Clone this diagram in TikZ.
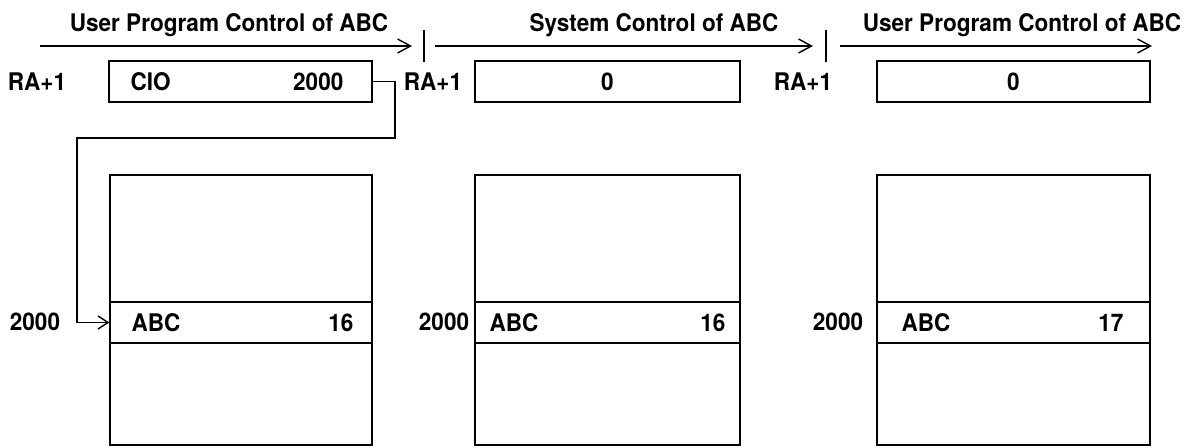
\documentclass[tikz,border=0pt]{standalone}
\usepackage{fontspec}
\setmainfont{TeX Gyre Heros}
\newfontfamily\lblfont{TeX Gyre Heros}[FakeStretch=0.93]
\usetikzlibrary{arrows.meta, positioning, calc}

\begin{document}
\begin{tikzpicture}[
    % --- Global Styles ---
    base/.style={font=\lblfont\fontsize{13.8}{16}\selectfont\bfseries, inner sep=0pt},
    word/.style={base, draw, line width=0.8pt, minimum height=0.82cm, minimum width=5.3cm},
    store/.style={draw, line width=0.8pt, minimum height=5.4cm, minimum width=5.3cm, inner sep=0pt},
    tag/.style={base},
    arrow/.style={-{Straight Barb[length=2.6mm, width=2.8mm]}, line width=0.8pt},
    link/.style={-{Straight Barb[length=2mm, width=2.6mm]}, line width=0.8pt},
    marker/.style={line width=0.8pt}
]
    \useasboundingbox (0,0) rectangle (24.02,8.94);

    % --- Headings ---
    \node[tag, anchor=base] (title1) at (4.58,8.30) {User Program Control of ABC};
    \node[tag, anchor=base] (title2) at (13.08,8.30) {System Control of ABC};
    \node[tag, anchor=base] (title3) at (20.44,8.30) {User Program Control of ABC};

    % --- Word RA+1 at each stage ---
    \node[word, minimum width=5.26cm] (cio) at (4.81,7.31) {};
    \node[word] (ra2) at (12.15,7.31) {0};
    \node[word, minimum width=5.46cm] (ra3) at (20.27,7.31) {0};
    \node[tag, right=0.44cm of cio.west] (ciotxt) {CIO};
    \node[tag, left=0.58cm of cio.east] (cioaddr) {2000};

    \node[tag] (ralbl1) at (0.74,7.30) {RA+1};
    \node[tag] (ralbl2) at (8.66,7.30) {RA+1};
    \node[tag] (ralbl3) at (16.06,7.30) {RA+1};

    % --- Storage with ABC at 2000 ---
    \node[store, minimum width=5.24cm] (mem1) at (4.82,2.74) {};
    \node[store] (mem2) at (12.15,2.74) {};
    \node[store, minimum width=5.46cm] (mem3) at (20.27,2.74) {};

    \node[word, minimum width=5.24cm] (abc1) at (4.82,2.49) {};
    \node[word] (abc2) at (12.15,2.49) {};
    \node[word, minimum width=5.46cm] (abc3) at (20.27,2.49) {};

    \node[tag, right=0.44cm of abc1.west] (abcname1) {ABC};
    \node[tag, left=0.38cm of abc1.east] (abccnt1) {16};
    \node[tag, right=0.30cm of abc2.west] (abcname2) {ABC};
    \node[tag, left=0.30cm of abc2.east] (abccnt2) {16};
    \node[tag, right=0.50cm of abc3.west] (abcname3) {ABC};
    \node[tag, left=0.54cm of abc3.east] (abccnt3) {17};

    \node[tag] (addr1) at (0.70,2.50) {2000};
    \node[tag] (addr2) at (8.88,2.50) {2000};
    \node[tag] (addr3) at (16.76,2.50) {2000};

    % --- Control flow along the top ---
    \coordinate (m1) at (8.48,8.02);
    \coordinate (m2) at (16.52,8.02);
    \coordinate (a1start) at (0.80,8.02);
    \coordinate (a3end) at (23.04,8.02);
    \draw[arrow] (a1start) -- ([xshift=-0.24cm]m1);
    \draw[arrow] ([xshift=0.22cm]m1) -- ([xshift=-0.26cm]m2);
    \draw[arrow] ([xshift=0.28cm]m2) -- (a3end);
    \foreach \m in {m1,m2}
        \draw[marker] ([yshift=0.32cm]\m) -- ([yshift=-0.32cm]\m);

    % --- Pointer from CIO word to ABC ---
    \coordinate (bendA) at (7.90,6.18);
    \coordinate (bendB) at (1.54,6.18);
    \draw[link] (cio.east) -| (bendA) -- (bendB) |- (abc1.west);

\end{tikzpicture}
\end{document}
